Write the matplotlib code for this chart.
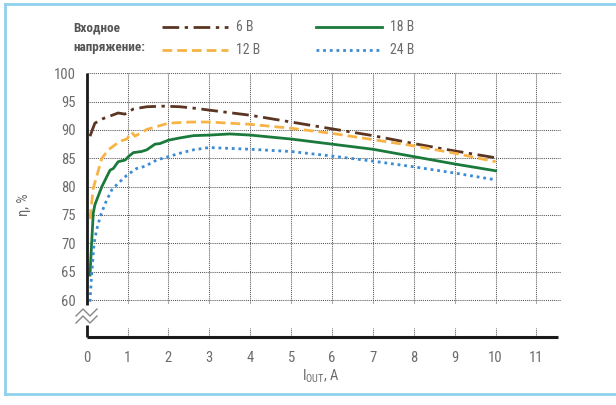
import matplotlib
matplotlib.use('Agg')
import matplotlib.pyplot as plt
from matplotlib.lines import Line2D
from matplotlib import font_manager

# efficiency curves
x_6v = [0.08, 0.2, 0.4, 0.77, 0.93, 1.14, 1.47, 1.87, 2.28, 2.69, 3, 4, 5, 6, 7, 8, 9, 10]
eff_6v = [88.9, 91.2, 92.0, 93.0, 92.8, 93.7, 94.1, 94.2, 94.1, 93.8, 93.5, 92.6, 91.4, 90.2, 89.0, 87.6, 86.3, 85.1]

x_12v = [0.08, 0.16, 0.37, 0.53, 0.81, 0.98, 1.1, 1.18, 1.47, 2.0, 2.53, 3, 4, 5, 6, 7, 8, 9, 10]
eff_12v = [74.3, 79.7, 85.0, 86.5, 88.0, 88.4, 89.6, 88.9, 90.1, 91.2, 91.4, 91.4, 91.0, 90.3, 89.4, 88.3, 87.2, 85.9, 84.4]

x_18v = [0.08, 0.16, 0.2, 0.37, 0.57, 0.65, 0.77, 0.94, 1.02, 1.14, 1.34, 1.47, 1.67, 1.79, 2.0, 2.28, 2.61,
         3, 3.5, 4, 5, 6, 7, 8, 9, 10]
eff_18v = [64.4, 75.3, 76.8, 80.0, 82.9, 83.2, 84.4, 84.7, 85.3, 86.0, 86.2, 86.5, 87.5, 87.6, 88.2, 88.6, 89.0,
           89.1, 89.3, 89.1, 88.4, 87.5, 86.6, 85.3, 84.0, 82.8]

x_24v = [0.08, 0.12, 0.18, 0.24, 0.33, 0.45, 0.61, 0.77, 0.98, 1.22, 1.43, 1.71, 2.0, 2.28, 2.61, 2.9,
         3, 4, 5, 6, 7, 8, 9, 10]
eff_24v = [59.7, 64.4, 70.0, 72.3, 74.7, 77.0, 79.4, 80.6, 82.0, 83.2, 83.6, 84.7, 85.3, 85.9, 86.5, 86.8,
           86.9, 86.6, 86.2, 85.4, 84.5, 83.5, 82.4, 81.2]

series_labels = ['6 В', '12 В', '18 В', '24 В']
x_ticks = list(range(0, 12))
y_ticks = list(range(60, 101, 5))

# font: narrow if there is one
names = {f.name for f in font_manager.fontManager.ttflist}
fam = 'DejaVu Sans'
for cand in ['Liberation Sans Narrow', 'Roboto Condensed', 'Open Sans Condensed', 'Liberation Sans']:
    if cand in names:
        fam = cand
        break
plt.rcParams['font.family'] = [fam, 'DejaVu Sans']

W, H = 616, 405
fig = plt.figure(figsize=(W / 100, H / 100), dpi=100)


def px(x, y):
    return x / W, 1 - y / H


# light blue frame (open on the right)
border = '#8fd0ec'
for xs, ys in [([5, 5], [4, 394]), ([5, 616], [4, 4]), ([5, 616], [394, 394])]:
    fig.add_artist(Line2D([x / W for x in xs], [1 - y / H for y in ys], color=border, lw=2,
                          transform=fig.transFigure))

left, right, top, bottom = 86.7, 561, 73.3, 337.3
ax = fig.add_axes([left / W, 1 - bottom / H, (right - left) / W, (bottom - top) / H])
ymin = 53.42
ax.set_xlim(0, 11.6)
ax.set_ylim(ymin, 100)
for s in ax.spines.values():
    s.set_visible(False)

grid_kw = dict(color='#555555', lw=0.75, linestyle=(0, (1, 1)), zorder=1)
for y in y_ticks:
    ax.hlines(y, 0, 11.6, **grid_kw)
for x in x_ticks[1:]:
    ax.vlines(x, 59.4, 100, **grid_kw)
    ax.vlines(x, ymin, 55.0, **grid_kw)

# axes with the break
ax.plot([0, 0], [59.2, 100], color='#1a1a1a', lw=2, clip_on=False, zorder=5, solid_capstyle='butt')
ax.plot([0, 0], [ymin, 55.6], color='#1a1a1a', lw=2, clip_on=False, zorder=5, solid_capstyle='butt')
ax.plot([0, 11.53], [ymin, ymin], color='#1a1a1a', lw=2.2, clip_on=False, zorder=5, solid_capstyle='butt')
for dy in (0, 7):
    zx = [76, 83, 90, 97]
    zy = [316 + dy, 309 + dy, 316 + dy, 309 + dy]
    fig.add_artist(Line2D([x / W for x in zx], [1 - y / H for y in zy], color='#888888', lw=1,
                          transform=fig.transFigure))

c6, c12, c18, c24 = '#5b3522', '#f7b346', '#1b7a3b', '#3a8bd4'
st6 = (0, (6, 2, 1.2, 2))
st12 = (0, (3.5, 1.8))
st24 = (0, (1, 1.4))
ax.plot(x_6v, eff_6v, color=c6, lw=2, linestyle=st6, zorder=3)
ax.plot(x_12v, eff_12v, color=c12, lw=2, linestyle=st12, zorder=3)
ax.plot(x_18v, eff_18v, color=c18, lw=2, zorder=3)
ax.plot(x_24v, eff_24v, color=c24, lw=2, linestyle=st24, zorder=3)

gray = '#6b6b6b'
ax.set_xticks(x_ticks)
ax.set_yticks(y_ticks)
ax.tick_params(length=0, labelsize=10.5, colors=gray)
ax.tick_params(axis='x', pad=10)
ax.tick_params(axis='y', pad=8)

fig.text(*px(321, 376), 'I$_{\\mathregular{OUT}}$, A', color=gray, fontsize=10.5, ha='center', va='center')
fig.text(*px(24, 205), 'η, %', color=gray, fontsize=10.5, ha='center', va='center', rotation=90)

# legend
fig.text(*px(73, 28), 'Входное', color='#555555', fontsize=9.5, fontweight='bold', va='center')
fig.text(*px(73, 47), 'напряжение:', color='#555555', fontsize=9.5, fontweight='bold', va='center')
leg = [(162, 27, c6, st6), (162, 50, c12, st12), (316, 27, c18, '-'), (316, 50, c24, st24)]
for (lx, ly, col, ls), lab in zip(leg, series_labels):
    fig.add_artist(Line2D([lx / W, (lx + 66) / W], [1 - ly / H] * 2, color=col, lw=2, linestyle=ls,
                          transform=fig.transFigure))
    fig.text(*px(lx + 74, ly), lab, color=gray, fontsize=10, va='center')

plt.savefig('out.png', dpi=100)
